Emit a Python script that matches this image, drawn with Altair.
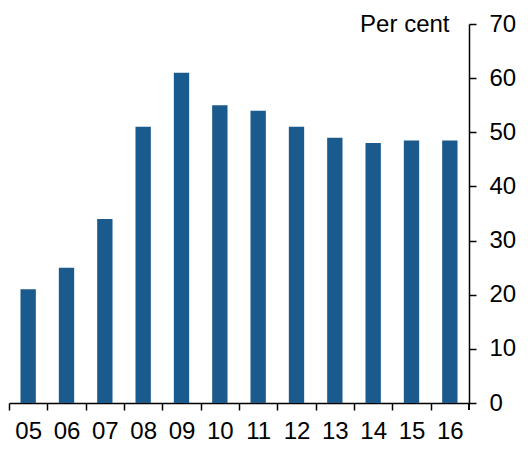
import altair as alt
import pandas as pd

years = ["05", "06", "07", "08", "09", "10", "11", "12", "13", "14", "15", "16"]
values = [21, 25, 34, 51, 61, 55, 54, 51, 49, 48, 48.5, 48.5]
y_ticks = [0, 10, 20, 30, 40, 50, 60, 70]

df = pd.DataFrame({"year": years, "value": values})

W = 460
H = 379
FONT = "Liberation Sans"

bars = alt.Chart(df).mark_bar(color="#1a5a8c").encode(
    x=alt.X(
        "year:N",
        sort=years,
        scale=alt.Scale(paddingInner=0.6, paddingOuter=0.3),
        axis=alt.Axis(
            title=None,
            labelAngle=0,
            labelFontSize=24,
            labelFont=FONT,
            labelColor="black",
            labelBaseline="alphabetic",
            labelPadding=28,
            tickSize=7,
            tickColor="black",
            tickWidth=1.5,
            tickOffset=-W / 24,
            labelOffset=W / 24,
            domainColor="black",
            domainWidth=1.5,
            grid=False,
        ),
    ),
    y=alt.Y(
        "value:Q",
        scale=alt.Scale(domain=[0, 70], nice=False),
        axis=alt.Axis(
            orient="right",
            title="Per cent",
            titleAngle=0,
            titleAlign="right",
            titleBaseline="alphabetic",
            titleX=-20,
            titleY=7,
            titleFontSize=24,
            titleFontWeight="normal",
            titleFont=FONT,
            titleColor="black",
            values=y_ticks,
            labelFontSize=24,
            labelFont=FONT,
            labelColor="black",
            labelPadding=13,
            tickSize=7,
            tickColor="black",
            tickWidth=1.5,
            domainColor="black",
            domainWidth=1.5,
            grid=False,
        ),
    ),
)

end_tick = alt.Chart(df).mark_rule(color="black", strokeWidth=1.5).encode(
    x=alt.value(W), y=alt.value(H), y2=alt.value(H + 7)
)

chart = (
    alt.layer(bars, end_tick)
    .properties(
        width=W,
        height=H,
        autosize=alt.AutoSizeParams(type="none"),
        padding={"left": 1, "top": 16, "right": 51, "bottom": 40},
    )
    .configure_view(stroke=None)
)

chart.save("out.html", embed_options={"renderer": "svg", "actions": False})
